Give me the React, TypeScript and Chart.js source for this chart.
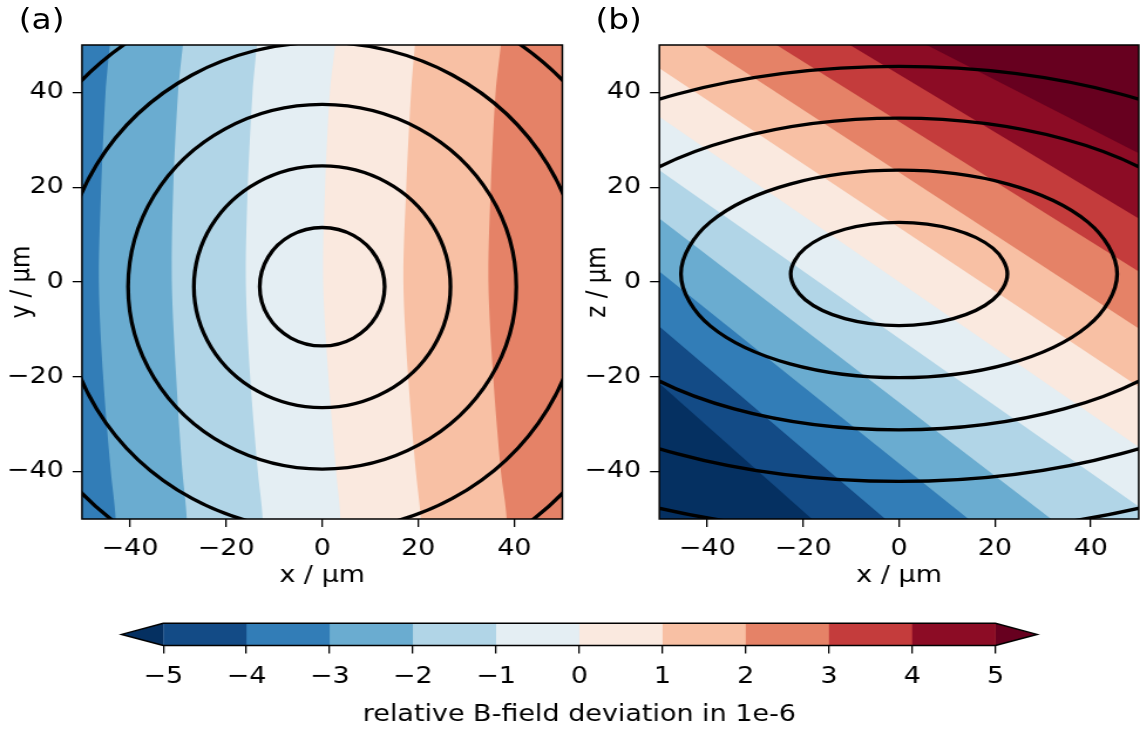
import React, { useEffect, useRef } from "react";
import { Chart, registerables } from "chart.js";

Chart.register(...registerables);
Chart.defaults.font.family = "'DejaVu Sans', sans-serif";
Chart.defaults.font.size = 23;
Chart.defaults.color = "#000";

// ---------------- data ----------------
const LEVELS = [-5, -4, -3, -2, -1, 0, 1, 2, 3, 4, 5];
// [0] below -5, [i] between LEVELS[i-1] and LEVELS[i], [11] above 5
const BAND_COLORS = [
  "#053061", "#134b86", "#327db7", "#6aacd0", "#b1d5e7", "#e4eef3",
  "#fae9df", "#f8c0a4", "#e58267", "#c43c3c", "#8c0c25", "#67001f",
];
const AXIS_MIN = -50;
const AXIS_MAX = 50;
const AXIS_TICKS = [-40, -20, 0, 20, 40];
const CB_TICKS = [-5, -4, -3, -2, -1, 0, 1, 2, 3, 4, 5];
const CB_EXTEND = 0.5;

// panel (a): contour level boundaries x(y)
const A_CURVE_Y = [50, 40, 20, 0, -20, -40, -50];
const A_LEVELS = [-3, -2, -1, 0, 1, 2];
const A_X_LEVEL_M3 = [-44.2, -45.1, -46.0, -46.5, -45.6, -44.0, -43.0];
const A_X_LEVEL_M2 = [-29.0, -30.0, -31.0, -31.3, -30.4, -29.1, -28.2];
const A_X_LEVEL_M1 = [-13.6, -14.5, -15.5, -15.9, -15.0, -13.4, -12.4];
const A_X_LEVEL_0 = [2.7, 1.6, 0.6, 0.2, 1.3, 2.9, 3.8];
const A_X_LEVEL_P1 = [19.3, 18.5, 17.5, 16.9, 17.9, 19.5, 20.5];
const A_X_LEVEL_P2 = [37.2, 36.1, 35.1, 34.6, 35.6, 37.2, 38.4];
const A_LEVEL_X = [A_X_LEVEL_M3, A_X_LEVEL_M2, A_X_LEVEL_M1, A_X_LEVEL_0, A_X_LEVEL_P1, A_X_LEVEL_P2];

// panel (b): straight level boundaries, y at x = -50 and x = 50
const B_LEVEL_Y_LEFT = [-21.4, -9.4, 2.2, 13.4, 23.6, 34.9, 45.1, 56.1, 65.5, 74.2, 78.8];
const B_LEVEL_Y_RIGHT = [-111.4, -95.6, -78.8, -64.2, -47.4, -34.8, -22.1, -9.8, 2.2, 13.4, 27.2];

// contour ellipses (x, y) read around each loop
const A_E1 = [[13, -1], [11.26, 5.25], [6.5, 9.83], [0, 11.5], [-6.5, 9.83], [-11.26, 5.25], [-13, -1], [-11.26, -7.25], [-6.5, -11.83], [0, -13.5], [6.5, -11.83], [11.26, -7.25]];
const A_E2 = [[26.7, -1], [23.12, 11.75], [13.35, 21.08], [0, 24.5], [-13.35, 21.08], [-23.12, 11.75], [-26.7, -1], [-23.12, -13.75], [-13.35, -23.08], [0, -26.5], [13.35, -23.08], [23.12, -13.75]];
const A_E3 = [[40.4, -1], [34.99, 18.25], [20.2, 32.34], [0, 37.5], [-20.2, 32.34], [-34.99, 18.25], [-40.4, -1], [-34.99, -20.25], [-20.2, -34.34], [0, -39.5], [20.2, -34.34], [34.99, -20.25]];
const A_E4 = [[54.2, -1], [46.94, 24.8], [27.1, 43.69], [0, 50.6], [-27.1, 43.69], [-46.94, 24.8], [-54.2, -1], [-46.94, -26.8], [-27.1, -45.69], [0, -52.6], [27.1, -45.69], [46.94, -26.8]];
const A_E5 = [[68.1, -1], [58.97, 31.1], [34.05, 54.6], [0, 63.2], [-34.05, 54.6], [-58.97, 31.1], [-68.1, -1], [-58.97, -33.1], [-34.05, -56.6], [0, -65.2], [34.05, -56.6], [58.97, -33.1]];

const B_E1 = [[22.6, 1.7], [19.57, 7.15], [11.3, 11.14], [0, 12.6], [-11.3, 11.14], [-19.57, 7.15], [-22.6, 1.7], [-19.57, -3.75], [-11.3, -7.74], [0, -9.2], [11.3, -7.74], [19.57, -3.75]];
const B_E2 = [[45.5, 1.7], [39.4, 12.65], [22.75, 20.67], [0, 23.6], [-22.75, 20.67], [-39.4, 12.65], [-45.5, 1.7], [-39.4, -9.25], [-22.75, -17.27], [0, -20.2], [22.75, -17.27], [39.4, -9.25]];
const B_E3 = [[68.8, 1.7], [59.58, 18.15], [34.4, 30.19], [0, 34.6], [-34.4, 30.19], [-59.58, 18.15], [-68.8, 1.7], [-59.58, -14.75], [-34.4, -26.79], [0, -31.2], [34.4, -26.79], [59.58, -14.75]];
const B_E4 = [[92.8, 1.7], [80.36, 23.6], [46.4, 39.63], [0, 45.5], [-46.4, 39.63], [-80.36, 23.6], [-92.8, 1.7], [-80.36, -20.2], [-46.4, -36.23], [0, -42.1], [46.4, -36.23], [80.36, -20.2]];
const B_E5 = [[116, 1.7], [100.46, 29.1], [58, 49.16], [0, 56.5], [-58, 49.16], [-100.46, 29.1], [-116, 1.7], [-100.46, -25.7], [-58, -45.76], [0, -53.1], [58, -45.76], [100.46, -25.7]];

const A_ELLIPSES = [A_E1, A_E2, A_E3, A_E4, A_E5];
const B_ELLIPSES = [B_E1, B_E2, B_E3, B_E4, B_E5];

// ---------------- helpers ----------------
const STRETCH = 1140 / 972;
const FAR = 150;
const TRANSPARENT = "rgba(0,0,0,0)";
const tickFmt = (v: any) => String(v).replace("-", "\u2212");

type P = { x: number; y: number };

function fillSet(points: P[], color: string, order: number, tension = 0) {
  return {
    data: points,
    backgroundColor: color,
    borderColor: TRANSPARENT,
    borderWidth: 0,
    fill: "shape",
    pointRadius: 0,
    tension,
    order,
  };
}

function ellipseSet(pts: number[][]) {
  const loop = [...pts, pts[0], pts[1], pts[2]].map(([x, y]) => ({ x, y }));
  const last = loop.length - 1;
  return {
    data: loop,
    borderColor: "#000",
    borderWidth: 3.3,
    fill: false,
    pointRadius: 0,
    tension: 0.35,
    order: 1,
    segment: {
      borderColor: (ctx: any) =>
        ctx.p0DataIndex === 0 || ctx.p1DataIndex === last ? TRANSPARENT : undefined,
    },
  };
}

function frameSet() {
  return {
    data: [
      { x: AXIS_MIN, y: AXIS_MIN }, { x: AXIS_MAX, y: AXIS_MIN }, { x: AXIS_MAX, y: AXIS_MAX },
      { x: AXIS_MIN, y: AXIS_MAX }, { x: AXIS_MIN, y: AXIS_MIN }, { x: AXIS_MAX, y: AXIS_MIN },
    ],
    borderColor: "#000",
    borderWidth: 1.5,
    fill: false,
    pointRadius: 0,
    tension: 0,
    clip: false,
    order: 0,
  };
}

function baseRect(color: string) {
  return fillSet(
    [
      { x: AXIS_MIN - FAR, y: AXIS_MIN - FAR }, { x: AXIS_MAX + FAR, y: AXIS_MIN - FAR },
      { x: AXIS_MAX + FAR, y: AXIS_MAX + FAR }, { x: AXIS_MIN - FAR, y: AXIS_MAX + FAR },
    ],
    color,
    100
  );
}

function aFills() {
  const sets: any[] = [baseRect(BAND_COLORS[LEVELS.indexOf(A_LEVELS[0])])];
  A_LEVELS.forEach((lv, k) => {
    const xs = A_LEVEL_X[k];
    const pts: P[] = A_CURVE_Y.map((y, i) => ({ x: xs[i], y }));
    const first = pts[0];
    const lastP = pts[pts.length - 1];
    pts.push(
      { x: lastP.x, y: AXIS_MIN - 20 },
      { x: AXIS_MAX + FAR, y: AXIS_MIN - 20 },
      { x: AXIS_MAX + FAR, y: AXIS_MAX + 20 },
      { x: first.x, y: AXIS_MAX + 20 }
    );
    sets.push(fillSet(pts, BAND_COLORS[LEVELS.indexOf(lv) + 1], 99 - k, 0.3));
  });
  return sets;
}

function bFills() {
  const sets: any[] = [baseRect(BAND_COLORS[0])];
  LEVELS.forEach((lv, i) => {
    const pts: P[] = [
      { x: AXIS_MIN, y: B_LEVEL_Y_LEFT[i] },
      { x: AXIS_MAX, y: B_LEVEL_Y_RIGHT[i] },
      { x: AXIS_MAX, y: AXIS_MAX + FAR },
      { x: AXIS_MIN, y: AXIS_MAX + FAR },
    ];
    sets.push(fillSet(pts, BAND_COLORS[i + 1], 99 - i));
  });
  return sets;
}

function axisScale(axis: "x" | "y", title: string, fit: number, titlePad: any, tickPad: number) {
  return {
    type: "linear",
    min: AXIS_MIN,
    max: AXIS_MAX,
    afterBuildTicks: (s: any) => {
      s.ticks = AXIS_TICKS.map((v) => ({ value: v }));
    },
    afterFit: (s: any) => {
      if (axis === "x") s.height = fit;
      else s.width = fit;
    },
    grid: { display: true, drawOnChartArea: false, drawTicks: true, tickLength: 8, color: "#000", lineWidth: 1.3 },
    border: { display: false },
    ticks: { color: "#000", padding: tickPad, callback: tickFmt, maxRotation: 0, autoSkip: false },
    title: { display: true, text: title, color: "#000", padding: titlePad },
  };
}

function panelConfig(fills: any[], ellipses: number[][][], yTitle: string, yWidth: number, padRight: number, yTitlePad: number) {
  return {
    type: "line",
    data: { datasets: [...fills, ...ellipses.map(ellipseSet), frameSet()] },
    options: {
      animation: false,
      responsive: false,
      devicePixelRatio: 1,
      events: [],
      layout: { padding: { left: 0, top: 45.1, right: padRight, bottom: 10 } },
      plugins: { legend: { display: false }, tooltip: { enabled: false } },
      elements: { line: { capBezierPoints: false }, point: { radius: 0 } },
      scales: {
        x: axisScale("x", "x / \u03bcm", 71.1, { top: 0, bottom: 0 }, 8),
        y: axisScale("y", yTitle, yWidth, { top: yTitlePad, bottom: 0 }, 7.5),
      },
    },
  };
}

function colorbarConfig() {
  const sets: any[] = [];
  const lo = LEVELS[0];
  const hi = LEVELS[LEVELS.length - 1];
  for (let i = 0; i < LEVELS.length - 1; i++) {
    sets.push(
      fillSet(
        [{ x: LEVELS[i], y: 0 }, { x: hi, y: 0 }, { x: hi, y: 1 }, { x: LEVELS[i], y: 1 }],
        BAND_COLORS[i + 1],
        50 - i
      )
    );
  }
  sets.push(fillSet([{ x: lo, y: 0 }, { x: lo - CB_EXTEND, y: 0.5 }, { x: lo, y: 1 }], BAND_COLORS[0], 10));
  sets.push(fillSet([{ x: hi, y: 0 }, { x: hi + CB_EXTEND, y: 0.5 }, { x: hi, y: 1 }], BAND_COLORS[BAND_COLORS.length - 1], 10));
  sets.push({
    data: [
      { x: lo, y: 1 }, { x: hi, y: 1 }, { x: hi + CB_EXTEND, y: 0.5 }, { x: hi, y: 0 },
      { x: lo, y: 0 }, { x: lo - CB_EXTEND, y: 0.5 }, { x: lo, y: 1 }, { x: hi, y: 1 },
    ],
    borderColor: "#000",
    borderWidth: 1.5,
    borderJoinStyle: "miter",
    fill: false,
    pointRadius: 0,
    tension: 0,
    clip: false,
    order: 0,
  });
  return {
    type: "line",
    data: { datasets: sets },
    options: {
      animation: false,
      responsive: false,
      devicePixelRatio: 1,
      events: [],
      layout: { padding: { left: 103.7, top: 23.3, right: 87.8, bottom: 0 } },
      plugins: { legend: { display: false }, tooltip: { enabled: false } },
      elements: { line: { capBezierPoints: false }, point: { radius: 0 } },
      scales: {
        x: {
          type: "linear",
          min: lo - CB_EXTEND,
          max: hi + CB_EXTEND,
          afterBuildTicks: (s: any) => {
            s.ticks = CB_TICKS.map((v) => ({ value: v }));
          },
          afterFit: (s: any) => {
            s.height = 83.5;
          },
          grid: { display: true, drawOnChartArea: false, drawTicks: true, tickLength: 8, color: "#000", lineWidth: 1.3 },
          border: { display: false },
          ticks: { color: "#000", padding: 10, callback: tickFmt, maxRotation: 0, autoSkip: false },
          title: { display: true, text: "relative B-field deviation in 1e-6", color: "#000", padding: { top: 0, bottom: 0.5 } },
        },
        y: { type: "linear", display: false, min: 0, max: 1 },
      },
    },
  };
}

function ChartCanvas(props: { left: number; top: number; width: number; height: number; build: () => any }) {
  const ref = useRef<HTMLCanvasElement>(null);
  useEffect(() => {
    const chart = new Chart(ref.current as HTMLCanvasElement, props.build());
    return () => chart.destroy();
  }, []);
  return (
    <canvas
      ref={ref}
      width={props.width}
      height={props.height}
      style={{ position: "absolute", left: props.left, top: props.top, width: props.width, height: props.height }}
    />
  );
}

const labelStyle = (left: number): React.CSSProperties => ({
  position: "absolute",
  left,
  top: 6,
  fontFamily: "'DejaVu Sans', sans-serif",
  fontSize: 28,
  lineHeight: 1,
  color: "#000",
  whiteSpace: "nowrap",
});

export default function App() {
  return (
    <div
      style={{
        position: "absolute",
        left: 0,
        top: 0,
        width: 972,
        height: 729,
        background: "#fff",
        transform: `scaleX(${STRETCH})`,
        transformOrigin: "0 0",
        overflow: "hidden",
      }}
    >
      <ChartCanvas left={0} top={0} width={486} height={600} build={() => panelConfig(aFills(), A_ELLIPSES, "y / \u03bcm", 69.9, 6.5, 5)} />
      <ChartCanvas left={486} top={0} width={486} height={600} build={() => panelConfig(bFills(), B_ELLIPSES, "z / \u03bcm", 76.2, 1.1, 10.1)} />
      <ChartCanvas left={0} top={600} width={972} height={129} build={colorbarConfig} />
      <div style={labelStyle(16)}>(a)</div>
      <div style={labelStyle(507.7)}>(b)</div>
    </div>
  );
}
